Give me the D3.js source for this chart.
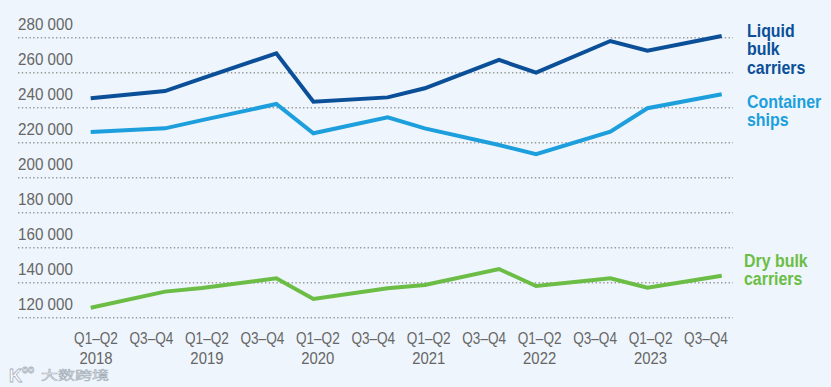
<!DOCTYPE html>
<html>
<head>
<meta charset="utf-8">
<script src="https://cdn.jsdelivr.net/npm/d3@7"></script>
<style>
  body { margin: 0; background: #eef5fc; }
  svg { display: block; }
  .narrow { font-family: "Liberation Sans Narrow", "Arial Narrow", "Liberation Sans", sans-serif; }
</style>
</head>
<body>
<svg id="chart" width="831" height="387"></svg>
<script>
// periods: Q1-Q2 plotted at start of year, Q3-Q4 ~two-thirds into the year
const periods = [2018, 2018.667, 2019, 2019.667, 2020, 2020.667, 2021, 2021.667, 2022, 2022.667, 2023, 2023.667];
const tickTop = ["Q1\u2013Q2", "Q3\u2013Q4", "Q1\u2013Q2", "Q3\u2013Q4", "Q1\u2013Q2", "Q3\u2013Q4", "Q1\u2013Q2", "Q3\u2013Q4", "Q1\u2013Q2", "Q3\u2013Q4", "Q1\u2013Q2", "Q3\u2013Q4"];
const tickYear = ["2018", "", "2019", "", "2020", "", "2021", "", "2022", "", "2023", ""];
const yTicks = [120000, 140000, 160000, 180000, 200000, 220000, 240000, 260000, 280000];

const liquidBulk = [245400, 249500, 256800, 271100, 243400, 245900, 251100, 267300, 260000, 278100, 272600, 281000];
const containerShips = [226100, 228200, 232900, 242100, 225400, 234500, 228200, 218700, 213400, 226300, 239700, 247700];
const dryBulk = [125700, 134900, 137000, 142500, 130700, 136800, 138700, 147800, 138100, 142500, 137100, 144000];

const series = [
  {name: ["Liquid", "bulk", "carriers"], values: liquidBulk, color: "#0b4f98", lx: 747, ly: 37},
  {name: ["Container", "ships"], values: containerShips, color: "#1c9fdc", lx: 747, ly: 108},
  {name: ["Dry bulk", "carriers"], values: dryBulk, color: "#6bbd45", lx: 744, ly: 267}
];

const svg = d3.select("#chart");

const x = d3.scaleLinear().domain([2018, 2023.667]).range([90.7, 721.7]);
const y = d3.scaleLinear().domain([120000, 280000]).range([317.7, 37.7]);
const xLabels = d3.scalePoint().domain(d3.range(tickTop.length)).range([96, 706]);

// dotted gridlines, labels sit above them
const grid = svg.append("g");
grid.selectAll("line").data(yTicks).join("line")
  .attr("x1", 18).attr("x2", 733)
  .attr("y1", d => y(d)).attr("y2", d => y(d))
  .attr("stroke", "#9a9a9a")
  .attr("stroke-width", 1.4)
  .attr("stroke-dasharray", "1.4,2.4");
grid.selectAll("text").data(yTicks).join("text")
  .attr("class", "narrow")
  .attr("transform", d => "translate(18," + (y(d) - 7.5) + ") scale(0.95,1)")
  .attr("fill", "#666")
  .attr("font-size", 16)
  .text(d => d3.format(",")(d).replace(",", " "));

// x axis labels
const xa = svg.append("g").attr("class", "narrow").attr("fill", "#666").attr("font-size", 16).attr("text-anchor", "middle");
xa.selectAll("text.q").data(tickTop).join("text")
  .attr("class", "q")
  .attr("transform", (d, i) => "translate(" + xLabels(i) + ",343.5) scale(0.85,1)")
  .text(d => d);
xa.selectAll("text.yr").data(tickYear).join("text")
  .attr("class", "yr")
  .attr("transform", (d, i) => "translate(" + xLabels(i) + ",364) scale(0.93,1)")
  .text(d => d);

// lines
const line = d3.line().x((d, i) => x(periods[i])).y(d => y(d));
svg.append("g").selectAll("path").data(series).join("path")
  .attr("d", d => line(d.values))
  .attr("fill", "none")
  .attr("stroke", d => d.color)
  .attr("stroke-width", 4)
  .attr("stroke-linejoin", "miter");

// series labels on the right
series.forEach(s => {
  const t = svg.append("text")
    .attr("class", "narrow")
    .attr("transform", "translate(" + s.lx + "," + s.ly + ") scale(0.91,1)")
    .attr("fill", s.color)
    .attr("font-size", 17.5)
    .attr("font-weight", "bold");
  s.name.forEach((w, i) => {
    t.append("tspan").attr("x", 0).attr("dy", i === 0 ? 0 : 18.5).text(w);
  });
});

// watermark
const wm = svg.append("g").attr("fill", "#ffffff").attr("stroke", "#a7b0ba").attr("stroke-width", 0.8);
wm.append("text")
  .attr("transform", "translate(9,382)")
  .attr("font-family", "Liberation Sans")
  .attr("font-size", 18)
  .attr("font-weight", "bold")
  .text("K");
wm.append("text")
  .attr("transform", "translate(22,373)")
  .attr("font-family", "Liberation Sans")
  .attr("font-size", 10)
  .attr("font-weight", "bold")
  .text("oo");
wm.append("text")
  .attr("transform", "translate(41,380) scale(1,0.72)")
  .attr("font-family", "Noto Sans CJK SC")
  .attr("font-size", 17)
  .text("大数跨境");
</script>
</body>
</html>
